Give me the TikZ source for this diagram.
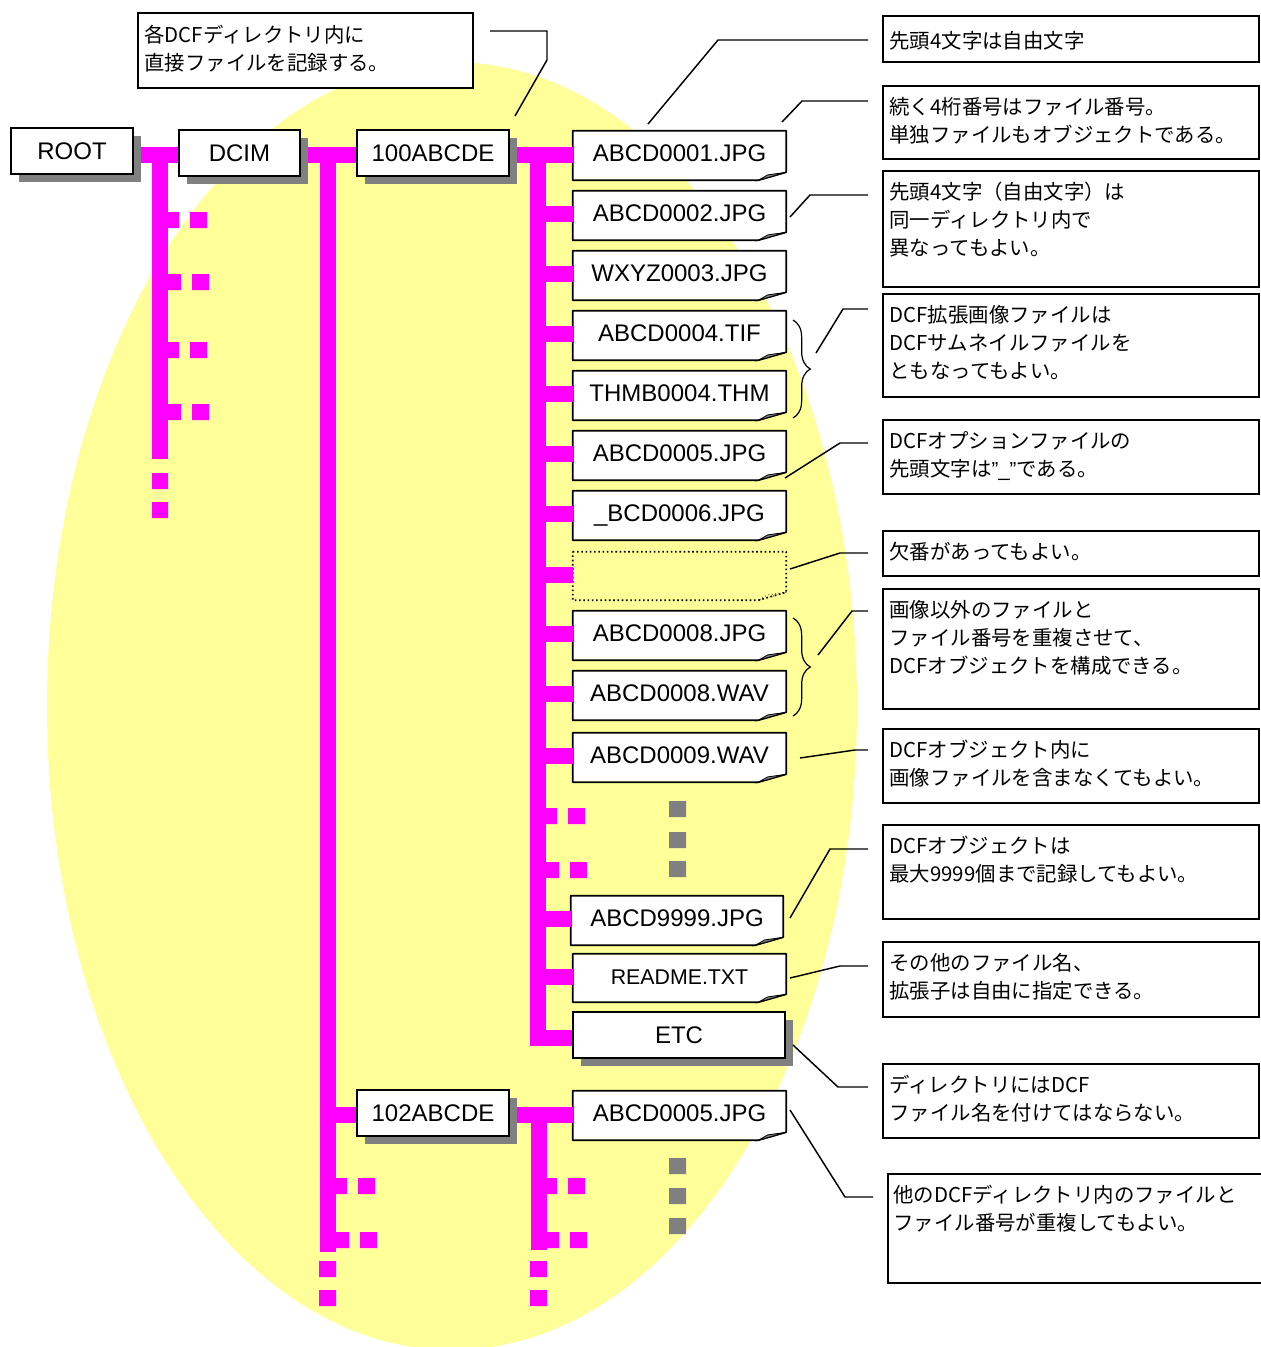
\documentclass[tikz,border=0pt]{standalone}
\usepackage{fontspec}
\setmainfont{Liberation Sans}
\newfontfamily\jpfont{Noto Sans CJK JP}
\newfontfamily\lsans{Liberation Sans}
\usetikzlibrary{shadows,decorations.pathreplacing,calc}
\definecolor{ellyellow}{HTML}{FFFF99}
\definecolor{barmag}{HTML}{FF00FF}
\definecolor{shgray}{HTML}{808080}
\pgfdeclarelayer{background}
\pgfdeclarelayer{bars}
\pgfsetlayers{background,bars,main}
% directory node: name, xl, yt, xr, yb, text
\newcommand\dirnode[6]{%
  \node[dirbox, minimum width={(#4-#2)*0.75pt}, minimum height={(#5-#3)*0.75pt}]
    (#1) at ({(#2+#4)/2},{(#3+#5)/2}) {#6};}
% file node: [outline style] name, xl, yt, xr, yb, text
\newcommand\filenode[7][]{%
  \node[fnode, minimum width={(#5-#3)*0.75pt}, minimum height={(#6-#4)*0.75pt}]
    (#2) at ({(#3+#5)/2},{(#4+#6)/2}) {#7};
  \begin{pgfonlayer}{background}
    \filldraw[fileline,#1] (#2.north west) -- (#2.north east)
      -- ([yshift=6pt]#2.south east) -- ([xshift=-21pt]#2.south east)
      -- (#2.south west) -- cycle;
    \filldraw[foldline,#1] ([yshift=6pt]#2.south east)
      -- ([xshift=-14pt,yshift=4pt]#2.south east)
      -- ([xshift=-21pt]#2.south east) -- cycle;
  \end{pgfonlayer}}
% note: [offset] name, xl, yt, xr, yb, text
\newcommand\notebox[7][7,8]{%
  \node[nbox, minimum width={(#5-#3)*0.75pt}, minimum height={(#6-#4)*0.75pt}]
    (#2) at ({(#3+#5)/2},{(#4+#6)/2}) {};
  \node[ntext] (#2t) at ($(#2.north west)+(#1)$) {\rule{0pt}{16pt}#7};}

\begin{document}
\begin{tikzpicture}[x=0.75pt,y=-0.75pt,
  dirbox/.style={draw=black, line width=1.5pt, fill=white, inner sep=0pt,
    font=\fontsize{18}{20}\selectfont, text height=12.96pt, text depth=0pt,
    drop shadow={shadow xshift=6pt, shadow yshift=-6pt, fill=shgray, opacity=1}},
  fnode/.style={inner sep=0pt, font=\fontsize{18}{20}\selectfont,
    text height=13.5pt, text depth=4.3pt},
  fileline/.style={draw=black, line width=1.2pt, fill=white, line join=round},
  foldline/.style={draw=black, line width=0.6pt, fill=shgray},
  nbox/.style={draw=black, line width=1.1pt, fill=white, inner sep=0pt},
  ntext/.style={anchor=north west, inner sep=0pt, align=left,
    font=\jpfont\fontsize{15.3}{21}\selectfont},
  bar/.style={draw=barmag, line width=12pt},
  dotsq/.style={fill=barmag},
  graysq/.style={fill=shgray},
  callout/.style={draw=black, line width=1.1pt},
  bracestyle/.style={draw=black, line width=0.9pt, decorate,
    decoration={brace, amplitude=13pt}}
]
\useasboundingbox (0,0) rectangle (1261,1347);
\clip (0,0) rectangle (1261,1347);

\begin{pgfonlayer}{background}
  \fill[ellyellow] (452,706) ellipse [x radius=405, y radius=644];
\end{pgfonlayer}

% directories
\dirnode{root}{11}{128}{133}{174}{ROOT}
\dirnode{dcim}{179}{130}{300}{176}{DCIM}
\dirnode{d100}{357}{130}{509}{176}{100ABCDE}
\dirnode{d102}{357}{1090}{509}{1136}{102ABCDE}

% files
\filenode{f1}{573}{131}{786}{180}{ABCD0001.JPG}
\filenode{f2}{573}{191}{786}{240}{ABCD0002.JPG}
\filenode{f3}{573}{251}{786}{300}{WXYZ0003.JPG}
\filenode{f4}{573}{311}{786}{360}{ABCD0004.TIF}
\filenode{f5}{573}{371}{786}{420}{THMB0004.THM}
\filenode{f6}{573}{431}{786}{480}{ABCD0005.JPG}
\filenode{f7}{573}{491}{786}{540}{\_BCD0006.JPG}
\filenode[dotted,fill=none]{f8}{573}{552}{786}{600}{}
\filenode{f9}{573}{611}{786}{660}{ABCD0008.JPG}
\filenode{f10}{573}{671}{786}{720}{ABCD0008.WAV}
\filenode{f11}{573}{733}{786}{782}{ABCD0009.WAV}
\filenode{f12}{571}{896}{783}{945}{ABCD9999.JPG}
\filenode{f13}{573}{954}{786}{1002}{{\fontsize{16}{18}\selectfont README.TXT}}
\dirnode{etc}{573}{1012}{785}{1058}{ETC}
\filenode{f14}{573}{1091}{786}{1140}{ABCD0005.JPG}

% magenta tree
\begin{pgfonlayer}{bars}
  % ROOT
  \draw[bar] (root.east |- 0,155) -- (dcim.west |- 0,155);
  \coordinate (t1a) at (160,147); \coordinate (t1b) at (160,459);
  \draw[bar] (t1a) -- (t1b);
  \fill[dotsq] (168,212) rectangle (179,228) (190,212) rectangle (207,228)
               (168,274) rectangle (181,290) (192,274) rectangle (209,290)
               (168,342) rectangle (179,358) (190,342) rectangle (207,358)
               (168,404) rectangle (181,420) (192,404) rectangle (209,420)
               (152,473) rectangle (168,489) (152,502) rectangle (168,518);
  % DCIM
  \draw[bar] (dcim.east |- 0,155) -- (d100.west |- 0,155);
  \coordinate (t2a) at (327.5,147); \coordinate (t2b) at (327.5,1252);
  \draw[bar] (t2a) -- (t2b);
  \draw[bar] (327.5,1115) -- (d102.west |- 0,1115);
  \fill[dotsq] (336,1178) rectangle (347,1194) (358,1178) rectangle (375,1194)
               (336,1232) rectangle (349,1248) (360,1232) rectangle (377,1248)
               (319,1261) rectangle (336,1277) (319,1290) rectangle (336,1306);
  % 100ABCDE
  \draw[bar] (d100.east |- 0,155) -- (f1.west |- 0,155);
  \coordinate (t3a) at (538,147); \coordinate (t3b) at (538,1046);
  \draw[bar] (t3a) -- (t3b);
  \foreach \n/\y in {f2/214,f3/274,f4/334,f5/394,f6/454,f7/514,f8/575,f9/634,
                     f10/694,f11/756,f12/919,f13/977}
    \draw[bar] (538,\y) -- (\n.west |- 0,\y);
  \draw[bar] (530,1038) -- (etc.west |- 0,1038);
  \fill[dotsq] (546,808) rectangle (557,824) (568,808) rectangle (585,824)
               (546,862) rectangle (559,878) (570,862) rectangle (587,878);
  % 102ABCDE
  \draw[bar] (d102.east |- 0,1115) -- (f14.west |- 0,1115);
  \coordinate (t4a) at (538.5,1107); \coordinate (t4b) at (538.5,1250);
  \draw[bar] (t4a) -- (t4b);
  \fill[dotsq] (547,1178) rectangle (557,1194) (568,1178) rectangle (585,1194)
               (547,1232) rectangle (559,1248) (570,1232) rectangle (587,1248)
               (530,1261) rectangle (547,1277) (530,1290) rectangle (547,1306);
\end{pgfonlayer}

% gray continuation squares
\fill[graysq] (669,801) rectangle (686,817) (669,832) rectangle (686,848)
              (669,861) rectangle (686,877);
\fill[graysq] (669,1158) rectangle (686,1174) (669,1188) rectangle (686,1204)
              (669,1218) rectangle (686,1234);

% notes
\notebox[7,9]{n0}{138}{13}{473}{88}{各DCFディレクトリ内に\\直接ファイルを記録する。}
\notebox[7,12]{n1}{883}{16}{1259}{62}{先頭4文字は自由文字}
\notebox{n2}{883}{86}{1259}{159}{続く4桁番号はファイル番号。\\単独ファイルもオブジェクトである。}
\notebox{n3}{883}{171}{1259}{287}{先頭4文字（自由文字）は\\同一ディレクトリ内で\\異なってもよい。}
\notebox{n4}{883}{294}{1259}{397}{DCF拡張画像ファイルは\\DCFサムネイルファイルを\\ともなってもよい。}
\notebox{n5}{883}{420}{1259}{494}{DCFオプションファイルの\\先頭文字は{\lsans ”\_”}である。}
\notebox{n6}{883}{531}{1259}{576}{欠番があってもよい。}
\notebox{n7}{883}{589}{1259}{709}{画像以外のファイルと\\ファイル番号を重複させて、\\DCFオブジェクトを構成できる。}
\notebox{n8}{883}{729}{1259}{803}{DCFオブジェクト内に\\画像ファイルを含まなくてもよい。}
\notebox{n9}{883}{825}{1259}{919}{DCFオブジェクトは\\最大9999個まで記録してもよい。}
\notebox{n10}{883}{942}{1259}{1017}{その他のファイル名、\\拡張子は自由に指定できる。}
\notebox{n11}{883}{1064}{1259}{1138}{ディレクトリにはDCF\\ファイル名を付けてはならない。}
\notebox[6,8]{n12}{888}{1174}{1275}{1283}{他のDCFディレクトリ内のファイルと\\ファイル番号が重複してもよい。}

% braces
\coordinate (b1a) at (793,320); \coordinate (b1b) at (793,418);
\draw[bracestyle] (b1a) -- (b1b);
\coordinate (b2a) at (793,618); \coordinate (b2b) at (793,716);
\draw[bracestyle] (b2a) -- (b2b);

% callout lines
\draw[callout] (490,31) -- (547,31) -- (547,60) -- (515,116);
\draw[callout] (868,40) -- (718,40) -- (648,124);
\draw[callout] (868,101) -- (802,101) -- (782,122);
\draw[callout] (868,195) -- (810,195) -- (790,217);
\draw[callout] (868,309) -- (843,309) -- (816,353);
\draw[callout] (868,443) -- (840,443) -- (785,478);
\draw[callout] (868,553) -- (840,553) -- (790,569);
\draw[callout] (868,611) -- (852,611) -- (818,655);
\draw[callout] (868,750) -- (855,750) -- (800,758);
\draw[callout] (868,849) -- (830,849) -- (790,918);
\draw[callout] (868,966) -- (840,966) -- (790,978);
\draw[callout] (868,1087) -- (838,1087) -- (793,1045);
\draw[callout] (873,1197) -- (845,1197) -- (790,1110);
\end{tikzpicture}
\end{document}
